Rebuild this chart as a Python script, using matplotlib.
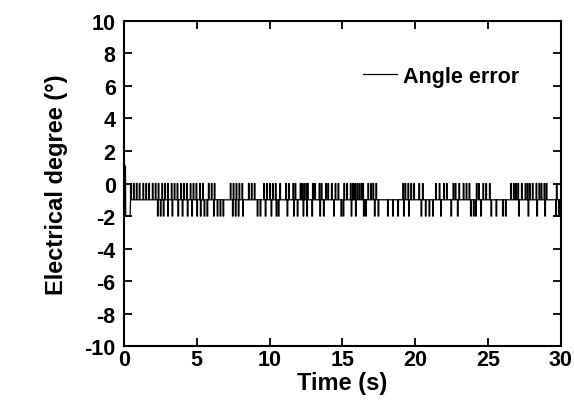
import matplotlib
matplotlib.use("Agg")
import matplotlib.pyplot as plt

plt.rcParams['font.family'] = ['Liberation Sans', 'DejaVu Sans']
plt.rcParams['font.weight'] = 'bold'
plt.rcParams['axes.unicode_minus'] = False

# start transient (s, degree)
start_t = [0.0, 0.03, 0.10, 0.12, 0.42, 0.45]
start_v = [0.0, 1.2, 1.0, -2.0, -2.0, -1.0]

base_level = -1.0
pulse_width = 0.05

# times where the error jumps up to 0
up_times = [0.45, 0.65, 0.85, 1.05, 1.3, 1.5, 1.7, 1.95, 2.15, 2.35, 2.6, 2.8, 3.0,
            3.25, 3.45, 3.65, 3.9, 4.1, 4.3, 4.55, 4.75, 4.95, 5.2, 5.4,
            5.8, 6.0, 6.2, 7.3, 7.5, 7.7, 7.9, 8.1, 8.55, 8.75, 8.95,
            9.6, 9.8, 10.0, 10.2, 10.4, 10.7, 11.1, 11.3, 11.6, 11.75,
            12.1, 12.2, 12.35, 12.5, 12.6, 12.95, 13.1, 13.4, 13.55,
            13.85, 14.0, 14.25, 14.5, 14.7, 15.1, 15.3,
            15.55, 15.7, 15.85, 16.0, 16.15, 16.3, 16.4, 16.75,
            16.95, 17.1, 17.3, 19.15, 19.3, 19.5, 19.7, 19.9, 20.25, 20.5,
            21.4, 21.65, 21.95, 22.15, 22.6, 22.75, 23.0, 23.3, 23.5, 23.7,
            24.2, 24.35, 24.65, 24.85, 25.1, 26.55, 26.75, 26.9, 27.05, 27.3,
            27.55, 27.7, 27.85, 28.05, 28.3, 28.5, 28.65, 28.85, 29.0, 29.7]

# times where the error drops to -2
down_times = [2.3, 2.5, 2.7, 3.0, 3.3, 3.7, 4.0, 4.35, 4.65, 5.0, 5.25, 5.5, 5.7,
              6.15, 6.4, 6.6, 6.8, 7.45, 7.65, 7.85, 8.15, 9.15, 9.35,
              9.7, 10.1, 10.45, 10.6, 11.2, 11.65, 11.9, 12.3, 12.55, 12.9,
              13.45, 13.7, 14.4, 14.9, 15.05, 15.6, 15.9, 16.45, 16.6,
              17.2, 17.45, 18.1, 18.45, 18.8, 19.2, 19.55, 20.4,
              20.7, 20.95, 21.2, 21.75, 22.45, 22.9, 23.8, 24.0, 24.15,
              24.5, 25.2, 25.55, 26.0, 26.2, 27.1, 27.75, 28.35, 28.9,
              29.65, 29.85]


def build_signal():
    events = sorted([(t, 0.0) for t in up_times] + [(t, -2.0) for t in down_times])
    ts = list(start_t)
    vs = list(start_v)
    for t, v in events:
        ts += [t, t, t + pulse_width, t + pulse_width]
        vs += [base_level, v, v, base_level]
    ts.append(30.0)
    vs.append(base_level)
    return ts, vs


def plot_error():
    ts, vs = build_signal()

    fig = plt.figure(figsize=(5.74, 4.06), dpi=100)
    ax = fig.add_axes([0.216, 0.145, 0.761, 0.801])
    ax.plot(ts, vs, color='black', linewidth=0.9, label='Angle error')

    ax.set_xlim(0, 30)
    ax.set_ylim(-10, 10)
    ax.set_xticks(range(0, 31, 5))
    ax.set_yticks(range(-10, 11, 2))
    ax.tick_params(direction='in', length=6, width=1.3, top=True, right=True,
                   labelsize=15.5)
    ax.tick_params(axis='x', pad=2)
    ax.tick_params(axis='y', pad=6)
    for lbl in ax.get_xticklabels() + ax.get_yticklabels():
        lbl.set_fontweight('bold')
    for sp in ax.spines.values():
        sp.set_linewidth(1.5)

    ax.set_xlabel("Time (s)", fontsize=17, fontweight='bold', labelpad=1)
    ax.set_ylabel("Electrical degree (°)", fontsize=17, fontweight='bold', labelpad=12)

    leg = ax.legend(frameon=False, loc='upper right', bbox_to_anchor=(0.95, 0.922),
                    handlelength=1.6, handletextpad=0.3,
                    prop={'weight': 'bold', 'size': 15.5})
    for line in leg.get_lines():
        line.set_linewidth(0.9)

    fig.savefig("out.png", dpi=100)
    plt.close(fig)


if __name__ == "__main__":
    plot_error()
